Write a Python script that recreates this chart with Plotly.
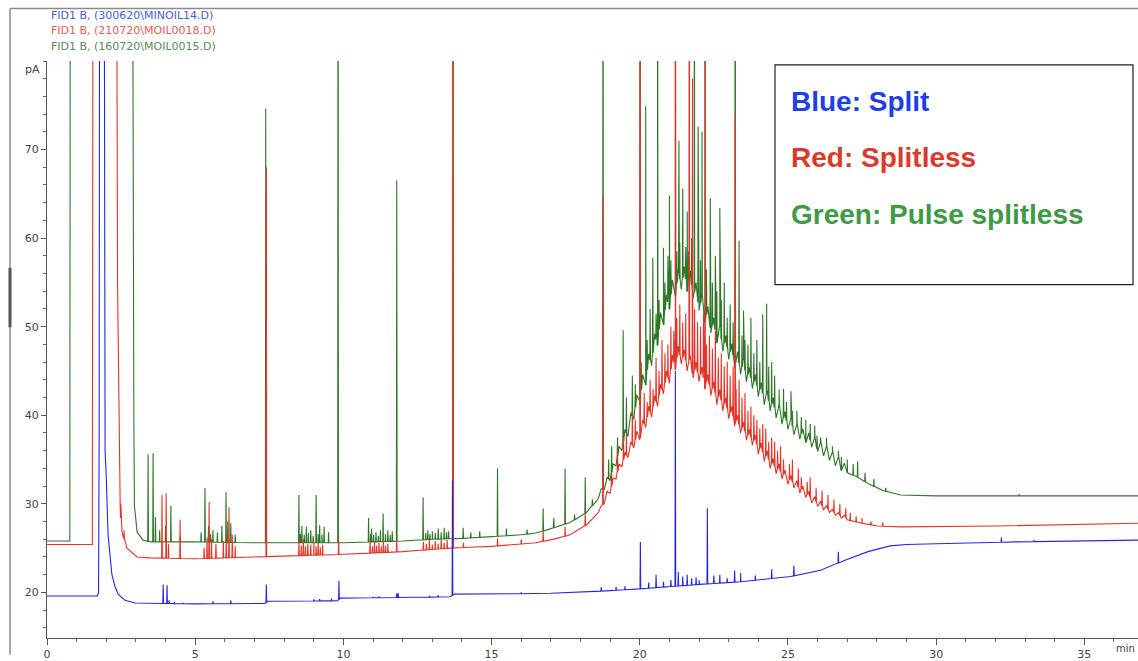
import numpy as np
import plotly.graph_objects as go

# ---------------- data (retention time in min, signal in pA) ----------------
# Blue: Split  (FID1 B, 300620\MINOIL14.D)
blue_base_t = [0.0, 1.70, 1.74, 1.76, 1.78, 1.92, 1.96, 2.00, 2.06, 2.12, 2.19, 2.30, 2.40,
               2.63, 2.97, 5.0, 7.35, 7.45, 9.80, 9.90, 13.60, 13.75, 15.0, 17.0, 18.5,
               19.0, 20.0, 22.0, 23.4, 25.1, 26.1, 26.9, 27.7, 28.45, 29.0, 30.0, 32.7, 36.82]
blue_base_y = [19.6, 19.6, 20.0, 38.0, 120.0, 120.0, 36.0, 33.0, 26.5, 24.0, 22.0, 20.6, 19.8,
               19.1, 18.8, 18.7, 18.75, 19.0, 19.05, 19.35, 19.5, 19.8, 19.8, 19.9, 20.1,
               20.2, 20.4, 20.9, 21.2, 21.8, 22.5, 23.6, 24.6, 25.25, 25.4, 25.5, 25.7, 25.9]
blue_peak_t = [3.92, 4.05, 4.12, 4.30, 4.60, 5.60, 6.20, 7.40, 9.00, 9.20, 9.60, 9.85, 10.5,
               11.0, 11.2, 11.8, 11.85, 12.9, 13.2, 13.68, 16.0, 18.7, 19.2, 19.5, 20.02,
               20.3, 20.55, 20.8, 21.05, 21.2, 21.3, 21.45, 21.6, 21.75, 21.9, 22.0, 22.28,
               22.5, 22.7, 22.95, 23.2, 23.4, 23.9, 24.45, 25.2, 26.7, 32.2, 33.3]
blue_peak_y = [20.9, 20.8, 19.1, 18.9, 18.8, 19.0, 19.1, 20.9, 19.2, 19.25, 19.3, 21.3, 19.45,
               19.5, 19.55, 19.9, 19.9, 19.6, 19.7, 32.6, 20.0, 20.6, 20.6, 20.7, 25.7,
               21.1, 22.0, 21.2, 21.4, 45.0, 22.3, 21.8, 22.0, 21.6, 21.7, 21.4, 29.5,
               21.9, 22.0, 21.6, 22.5, 22.2, 21.9, 22.6, 23.0, 24.6, 26.2, 25.9]

# Red: Splitless  (FID1 B, 210720\MOIL0018.D)
red_base_t = [0.0, 1.53, 1.56, 2.33, 2.38, 2.42, 2.46, 2.53, 2.70, 3.04, 3.5, 5.0, 7.0, 9.0,
              10.0, 12.0, 13.6, 15.0, 16.5, 17.2, 17.65, 18.2,
              18.6, 18.7, 18.8, 18.9, 19.0, 19.1, 19.2, 19.3, 19.4, 19.5, 19.6, 19.7, 19.8, 19.9,
              20.0, 20.1, 20.2, 20.3, 20.4, 20.5, 20.6, 20.7, 20.8, 20.9, 21.0, 21.1, 21.2, 21.3,
              21.4, 21.5, 21.6, 21.7, 21.8, 21.9, 22.0, 22.1, 22.2, 22.3, 22.4, 22.5, 22.6, 22.7,
              22.8, 22.9, 23.0, 23.1, 23.2, 23.3, 23.4, 23.5, 23.6, 23.7, 23.8, 23.9, 24.0, 24.1,
              24.2, 24.3, 24.4, 24.5, 24.6, 24.7, 24.8, 24.9, 25.0, 25.1, 25.2, 25.3, 25.4, 25.5,
              25.6, 25.7, 25.8, 25.9, 26.0, 26.1, 26.2, 26.3, 26.4, 26.5, 26.6, 26.7, 26.8, 26.9,
              27.0, 27.5, 28.0, 28.8, 32.0, 36.82]
red_base_y = [25.4, 25.4, 120.0, 120.0, 55.0, 40.0, 31.3, 26.8, 25.0, 24.0, 23.9, 23.8, 24.0, 24.2,
              24.3, 24.6, 25.0, 25.2, 25.6, 26.1, 26.5, 27.6,
              29.0, 29.8, 30.0, 31.3, 31.2, 32.9, 32.8, 34.5, 34.2, 35.8, 35.2, 37.0, 36.3, 38.2,
              37.2, 39.5, 38.6, 41.0, 39.8, 42.2, 41.0, 43.5, 42.4, 45.0, 43.6, 46.8, 45.2, 47.8,
              45.8, 47.4, 45.0, 46.8, 44.2, 46.0, 43.8, 45.4, 43.0, 44.6, 42.2, 43.8, 41.2, 42.9,
              40.5, 42.0, 39.6, 41.0, 38.8, 40.0, 38.0, 39.2, 37.2, 38.4, 36.6, 37.8, 35.6, 36.9,
              34.8, 36.0, 34.0, 35.1, 33.4, 34.5, 32.8, 33.8, 32.2, 33.2, 31.8, 32.6, 31.2, 32.0,
              30.7, 31.4, 30.1, 30.8, 29.7, 30.3, 29.3, 29.8, 29.0, 29.4, 28.7, 29.0, 28.4, 28.7,
              28.2, 27.8, 27.5, 27.4, 27.5, 27.8]
red_peak_t = [2.48, 2.60, 3.88, 4.02, 4.10, 4.49, 5.30, 5.40, 5.47, 5.55, 5.70, 5.95, 6.05,
              6.14, 6.25, 6.35, 7.40,
              8.50, 8.58, 8.65, 8.72, 8.80, 8.90, 9.00, 9.08, 9.15, 9.22, 9.30, 9.84, 10.9,
              10.98, 11.05, 11.12, 11.2, 11.28, 11.35, 11.42, 11.5, 11.8,
              12.7, 12.8, 12.9, 13.0, 13.1, 13.2, 13.3, 13.4, 13.5, 13.70, 14.05, 15.2, 16.0,
              16.74, 17.48, 18.16,
              18.76, 18.9, 19.05, 19.25, 19.45, 19.55, 19.75, 19.85, 20.01, 20.15, 20.25,
              20.35, 20.45, 20.55, 20.65, 20.75, 20.85, 20.95, 21.05, 21.15,
              21.2, 21.25, 21.35, 21.45, 21.55, 21.67, 21.78, 21.85, 21.95,
              22.05, 22.15, 22.2, 22.25, 22.35, 22.45, 22.55, 22.65, 22.75,
              22.85, 22.95, 23.05, 23.15, 23.22, 23.25, 23.35, 23.45, 23.55, 23.65,
              23.75, 23.85, 23.95, 24.05, 24.15, 24.25, 24.35, 24.45, 24.55, 24.65, 24.75,
              24.85, 25.05, 25.15, 25.35, 25.45, 25.65, 25.75, 25.95, 26.15, 26.35,
              26.55, 26.75, 26.95, 27.1, 27.3, 27.5, 27.8, 28.2]
red_peak_y = [28.4, 27.0, 31.0, 31.2, 25.5, 28.2, 25.0, 26.2, 30.2, 26.0, 25.5, 25.8, 26.4,
              29.6, 26.5, 25.2, 68.0,
              25.8, 25.3, 26.0, 25.2, 25.5, 25.4, 25.8, 25.2, 25.6, 25.1, 25.4, 26.1, 25.8,
              25.2, 25.7, 25.3, 25.6, 25.2, 25.9, 25.3, 25.5, 26.0,
              25.7, 25.5, 25.9, 25.4, 25.8, 25.5, 26.0, 25.6, 25.9, 120.0, 25.6, 26.1, 26.0,
              26.9, 27.4, 29.0,
              64.8, 31.5, 33.5, 36.0, 37.5, 38.0, 40.5, 39.5, 120.0, 42.5, 41.5,
              44.0, 43.0, 46.5, 45.0, 48.5, 47.0, 48.0, 50.0, 49.5,
              120.0, 51.0, 52.5, 50.5, 51.5, 120.0, 78.0, 52.0, 50.5,
              50.0, 51.5, 120.0, 48.0, 49.0, 47.5, 49.5, 46.5, 47.0,
              45.5, 46.0, 44.5, 45.5, 74.0, 43.0, 44.0, 42.0, 42.5, 40.5,
              41.0, 40.0, 39.5, 38.5, 39.0, 38.5, 37.0, 37.5, 37.0, 36.0, 36.5,
              35.0, 34.5, 35.0, 34.0, 33.0, 32.5, 33.0, 31.8, 31.5, 31.0,
              30.5, 30.0, 29.5, 29.0, 28.6, 28.4, 28.0, 27.9]

# Green: Pulse splitless  (FID1 B, 160720\MOIL0015.D)
green_base_t = [0.0, 0.77, 0.79, 2.87, 2.93, 2.95, 3.04, 3.24, 3.5, 5.0, 7.0, 9.0, 10.0, 12.0,
                13.0, 14.0, 15.0, 16.0, 16.5, 17.0, 17.65, 18.2,
                18.6, 18.7, 18.8, 18.9, 19.0, 19.1, 19.2, 19.3, 19.4, 19.5, 19.6, 19.7, 19.8, 19.9,
                20.0, 20.1, 20.2, 20.3, 20.4, 20.5, 20.6, 20.7, 20.8, 20.9, 21.0, 21.1, 21.2, 21.3,
                21.4, 21.5, 21.6, 21.7, 21.8, 21.9, 22.0, 22.1, 22.2, 22.3, 22.4, 22.5, 22.6, 22.7,
                22.8, 22.9, 23.0, 23.1, 23.2, 23.3, 23.4, 23.5, 23.6, 23.7, 23.8, 23.9, 24.0, 24.1,
                24.2, 24.3, 24.4, 24.5, 24.6, 24.7, 24.8, 24.9, 25.0, 25.1, 25.2, 25.3, 25.4, 25.5,
                25.6, 25.7, 25.8, 25.9, 26.0, 26.1, 26.2, 26.3, 26.4, 26.5, 26.6, 26.7, 26.8, 26.9,
                27.0, 27.3, 27.7, 28.2, 28.8, 30.0, 33.0, 36.82]
green_base_y = [25.8, 25.8, 120.0, 120.0, 40.0, 29.8, 26.8, 25.9, 25.7, 25.7, 25.6, 25.6, 25.6, 25.8,
                26.0, 26.1, 26.3, 26.5, 26.7, 27.2, 27.9, 29.0,
                30.6, 31.7, 31.6, 33.0, 32.6, 34.5, 34.3, 36.5, 36.0, 38.4, 37.6, 40.3, 39.5, 42.3,
                41.2, 44.6, 43.4, 46.9, 45.6, 49.2, 47.9, 51.6, 50.2, 53.6, 52.0, 55.3, 53.4, 56.5,
                54.2, 56.8, 54.0, 56.3, 53.2, 55.0, 51.8, 53.6, 50.5, 52.3, 49.3, 51.0, 48.2, 50.0,
                47.2, 49.0, 46.3, 48.1, 45.4, 47.2, 44.6, 46.3, 43.8, 45.4, 43.0, 44.6, 42.1, 43.7,
                41.2, 42.8, 40.5, 42.0, 39.7, 41.2, 39.0, 40.4, 38.4, 39.7, 37.8, 39.0, 37.3, 38.5,
                36.9, 38.0, 36.4, 37.5, 35.9, 37.0, 35.4, 36.5, 34.9, 35.9, 34.3, 35.3, 33.8, 34.6,
                33.5, 33.1, 32.3, 31.5, 31.0, 30.9, 30.9, 30.9]
green_peak_t = [3.41, 3.58, 3.66, 3.80, 4.00, 4.18, 4.50, 5.20, 5.33, 5.45, 5.52, 5.60, 5.75,
                5.90, 6.04, 6.10, 6.20, 6.35, 7.38,
                8.50, 8.55, 8.60, 8.68, 8.75, 8.82, 8.90, 8.98, 9.08, 9.15, 9.20, 9.28, 9.35,
                9.50, 9.82, 10.85, 10.92, 10.95, 11.02, 11.1, 11.18, 11.25, 11.34, 11.42, 11.5,
                11.58, 11.65, 11.8, 12.69, 12.78, 12.85, 12.92, 13.0, 13.1, 13.2, 13.3,
                13.4, 13.48, 13.55, 13.70, 14.04, 14.3, 14.6, 15.2, 15.5, 16.2, 16.74, 17.1,
                17.48, 17.8, 18.16, 18.4, 18.76, 18.95, 19.05, 19.25, 19.44, 19.55, 19.75, 19.85,
                20.01, 20.05, 20.2, 20.25, 20.35, 20.44, 20.55, 20.6, 20.65, 20.8, 20.85,
                20.95, 21.0, 21.05, 21.2, 21.25, 21.32, 21.35, 21.45, 21.55, 21.6, 21.65,
                21.75, 21.84, 21.85, 21.97, 22.05, 22.1, 22.2, 22.25, 22.38, 22.45, 22.55,
                22.6, 22.7, 22.75, 22.85, 22.95, 23.05, 23.15, 23.22, 23.35, 23.45, 23.5,
                23.55, 23.65, 23.75, 23.85, 23.95, 24.05, 24.15, 24.28, 24.35, 24.45,
                24.55, 24.7, 24.85, 24.95, 25.1, 25.15, 25.3, 25.45, 25.6, 25.75, 25.9,
                25.98, 26.1, 26.3, 26.5, 26.7, 26.8, 27.0, 27.2, 27.35, 27.6, 27.9, 28.3,
                32.8]
green_peak_y = [35.6, 35.7, 28.5, 27.0, 27.5, 29.8, 26.3, 26.8, 31.8, 27.5, 26.6, 27.0, 26.8,
                27.5, 31.3, 28.0, 27.8, 26.5, 74.6,
                31.0, 26.6, 27.5, 26.5, 27.4, 26.7, 27.0, 26.4, 31.0, 26.6, 27.6, 26.5, 27.4,
                26.8, 120.0, 28.4, 26.6, 27.2, 26.5, 26.8, 26.4, 27.0, 28.9, 26.6, 27.0,
                26.5, 26.9, 66.5, 30.7, 26.7, 27.0, 26.6, 26.9, 26.7, 27.2, 26.8,
                27.3, 26.8, 26.9, 120.0, 27.3, 26.8, 26.9, 34.0, 27.2, 27.1, 29.5, 28.4,
                34.0, 28.8, 33.0, 30.5, 120.0, 35.0, 36.5, 37.5, 49.6, 42.0, 44.5, 43.5,
                120.0, 46.0, 74.9, 48.5, 52.0, 57.8, 51.5, 120.0, 53.0, 58.9, 55.0,
                58.0, 64.8, 57.5, 120.0, 58.5, 71.0, 59.5, 65.6, 59.0, 63.0, 58.5,
                60.0, 120.0, 58.0, 72.6, 57.5, 72.0, 120.0, 56.5, 64.5, 55.0, 58.0,
                54.0, 63.4, 53.0, 55.0, 51.0, 52.5, 50.5, 120.0, 59.7, 49.0, 51.8,
                48.5, 48.0, 51.0, 47.0, 48.5, 46.0, 51.4, 52.6, 45.5, 46.0,
                44.5, 42.9, 43.0, 41.5, 42.7, 40.5, 40.5, 39.8, 39.5, 39.0, 38.8,
                37.7, 37.5, 37.5, 36.5, 36.0, 35.3, 35.0, 34.5, 34.8, 33.5, 32.8, 31.8,
                31.1]

x_ticks = [0, 5, 10, 15, 20, 25, 30, 35]
y_ticks = [20, 30, 40, 50, 60, 70]

file_labels = ["FID1 B, (300620\\MINOIL14.D)",
               "FID1 B, (210720\\MOIL0018.D)",
               "FID1 B, (160720\\MOIL0015.D)"]
legend_labels = ["Blue: Split", "Red: Splitless", "Green: Pulse splitless"]


def build(base_t, base_y, pk_t, pk_y, hw=0.012):
    xs = list(base_t)
    ys = list(base_y)
    for t, top in zip(pk_t, pk_y):
        b = float(np.interp(t, base_t, base_y))
        xs += [t - hw, t, t + hw]
        ys += [b, top, b]
    order = np.argsort(np.array(xs), kind="stable")
    return np.array(xs)[order], np.array(ys)[order]


series = [
    ("green", green_base_t, green_base_y, green_peak_t, green_peak_y, "rgb(48,118,40)"),
    ("red", red_base_t, red_base_y, red_peak_t, red_peak_y, "rgb(226,52,40)"),
    ("blue", blue_base_t, blue_base_y, blue_peak_t, blue_peak_y, "rgb(36,40,225)"),
]

fig = go.Figure()
for name, bt, by, pt, py, col in series:
    x, y = build(bt, by, pt, py)
    fig.add_trace(go.Scatter(x=x, y=y, mode="lines", name=name,
                             line=dict(color=col, width=1.1), hoverinfo="skip"))

W, H = 1138, 661
L, R, T, B = 47, 0, 61, 17
pw, ph = W - L - R, H - T - B


def px(xp):
    return (xp - L) / pw


def py_(yp):
    return (H - B - yp) / ph


fig.update_layout(
    width=W, height=H,
    margin=dict(l=L, r=R, t=T, b=B),
    paper_bgcolor="white", plot_bgcolor="white",
    showlegend=False,
    font=dict(family="DejaVu Sans, Verdana, sans-serif", color="#333"),
    xaxis=dict(range=[0, 36.81], tickvals=x_ticks, ticks="outside", ticklen=6,
               tickcolor="#555", showline=True, linecolor="#555", linewidth=1,
               showgrid=False, zeroline=False, tickfont=dict(size=11, color="#444"),
               minor=dict(dtick=1, ticks="outside", ticklen=3, tickcolor="#666")),
    yaxis=dict(range=[14.85, 80], tickvals=y_ticks, ticks="outside", ticklen=5,
               tickcolor="#555", showline=True, linecolor="#555", linewidth=1,
               showgrid=False, zeroline=False, tickfont=dict(size=11, color="#444"),
               minor=dict(dtick=2, ticks="outside", ticklen=3, tickcolor="#666")),
)

shapes = [
    # outer frame
    dict(type="line", xref="paper", yref="paper", x0=px(10), x1=px(10), y0=py_(8), y1=py_(661),
         line=dict(color="#8a8a8a", width=1.5)),
    dict(type="line", xref="paper", yref="paper", x0=px(10), x1=px(1138), y0=py_(8), y1=py_(8),
         line=dict(color="#8a8a8a", width=1.5)),
    dict(type="line", xref="paper", yref="paper", x0=px(10), x1=px(10), y0=py_(270), y1=py_(330),
         line=dict(color="#555", width=3)),
    # legend box
    dict(type="rect", xref="paper", yref="paper", x0=px(775), x1=px(1133), y0=py_(287), y1=py_(65),
         line=dict(color="#222", width=1.2), fillcolor="white", layer="above"),
]
fig.update_layout(shapes=shapes)

ann = []
file_cols = ["#4a5cd6", "#e0605a", "#5b8a58"]
for i, (txt, c) in enumerate(zip(file_labels, file_cols)):
    ann.append(dict(text=txt, xref="paper", yref="paper", x=px(49), y=py_(15 + 15.5 * i),
                    xanchor="left", yanchor="middle", showarrow=False,
                    font=dict(size=11, color=c, family="DejaVu Sans, Verdana")))
leg_cols = ["#1e3ee6", "#d93a2c", "#3f9a48"]
for i, (txt, c) in enumerate(zip(legend_labels, leg_cols)):
    ann.append(dict(text="<b>" + txt + "</b>", xref="paper", yref="paper", x=px(789),
                    y=py_([102, 158, 216][i]), xanchor="left", yanchor="middle", showarrow=False,
                    font=dict(size=28, color=c, family="Liberation Sans, Arial")))
ann.append(dict(text="pA", xref="paper", yref="paper", x=px(23), y=py_(70),
                xanchor="left", yanchor="middle", showarrow=False,
                font=dict(size=11, color="#444")))
ann.append(dict(text="min", xref="paper", yref="paper", x=px(1114), y=py_(655),
                xanchor="left", yanchor="middle", showarrow=False,
                font=dict(size=10, color="#444")))
fig.update_layout(annotations=ann)

fig.write_html("out.html")
